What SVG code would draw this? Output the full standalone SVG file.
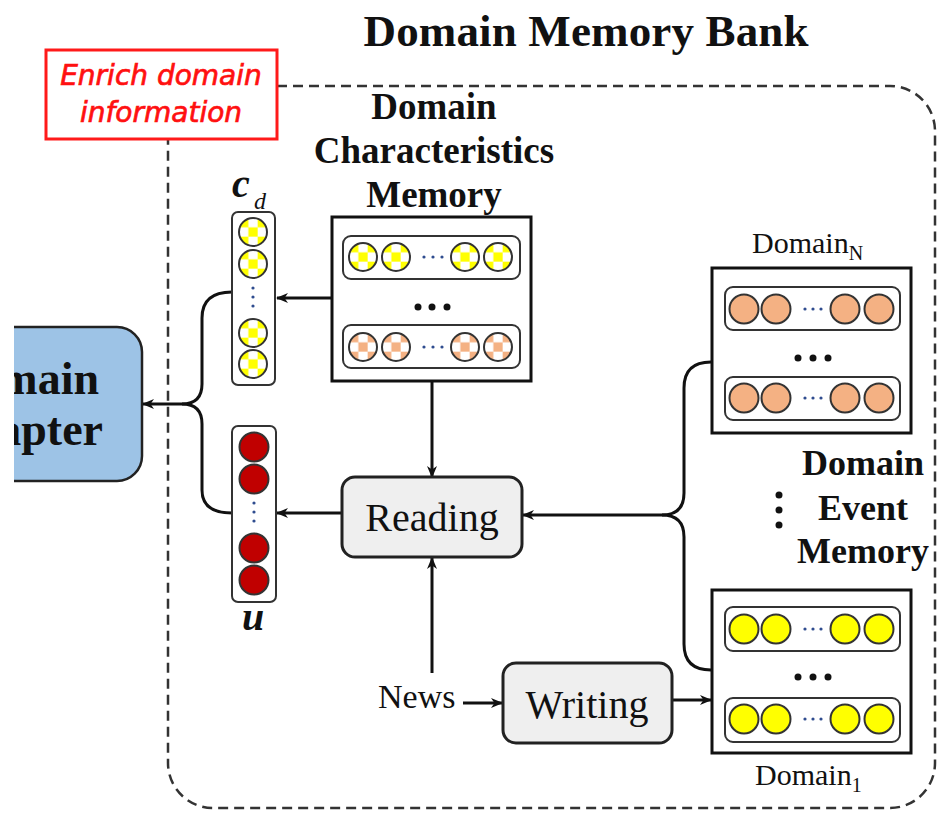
<svg xmlns="http://www.w3.org/2000/svg" width="940" height="814" viewBox="0 0 940 814">
  <defs>
    <style>
      .serif { font-family: "Liberation Serif", "Times New Roman", serif; fill: #111; }
      .bold { font-weight: bold; }
      .note { font-family: "DejaVu Sans", sans-serif; font-style: italic; font-size: 28px; fill: #ff1010; stroke: #ff1010; stroke-width: 0.7; }
      .frame { fill: #fff; stroke: #111; stroke-width: 3; }
      .row { fill: #fff; stroke: #333; stroke-width: 2; }
      .col { fill: #fff; stroke: #333; stroke-width: 2; }
      .cell { stroke: #333; stroke-width: 2; }
      .op { fill: #efefef; stroke: #222; stroke-width: 3; }
      .wire { fill: none; stroke: #111; stroke-width: 3; }
      .dot { fill: #111; }
      .tiny { fill: #2f4c8f; }
    </style>
    <pattern id="chkYellow" patternUnits="objectBoundingBox" width="0.6667" height="0.6667" patternContentUnits="objectBoundingBox">
      <rect width="0.6667" height="0.6667" fill="#ffff00"/>
      <rect x="0.3333" width="0.3333" height="0.3333" fill="#fff"/>
      <rect y="0.3333" width="0.3333" height="0.3333" fill="#fff"/>
    </pattern>
    <pattern id="chkOrange" patternUnits="objectBoundingBox" width="0.6667" height="0.6667" patternContentUnits="objectBoundingBox">
      <rect width="0.6667" height="0.6667" fill="#f4b183"/>
      <rect x="0.3333" width="0.3333" height="0.3333" fill="#fff"/>
      <rect y="0.3333" width="0.3333" height="0.3333" fill="#fff"/>
    </pattern>
    <marker id="arrow" viewBox="0 0 12 10" refX="11" refY="5" markerWidth="12" markerHeight="10" markerUnits="userSpaceOnUse" orient="auto">
      <path d="M0,0 L12,5 L0,10 L3.5,5 z" fill="#111"/>
    </marker>
    <clipPath id="viewClip">
      <rect x="14" y="0" width="926" height="814"/>
    </clipPath>
  </defs>

  <rect width="940" height="814" fill="#fff"/>

  <!-- memory bank boundary -->
  <g id="memory-bank">
    <rect x="168" y="86" width="767" height="722" rx="45" fill="none" stroke="#333" stroke-width="2.5" stroke-dasharray="10 6"/>
    <text class="serif bold" x="586" y="46" font-size="45" text-anchor="middle" textLength="445">Domain Memory Bank</text>
  </g>

  <!-- callout -->
  <g id="enrich-note">
    <rect x="46" y="50" width="231" height="89" fill="#fff" stroke="#ff1a1a" stroke-width="3"/>
    <text class="note" x="161" y="85" text-anchor="middle">Enrich domain</text>
    <text class="note" x="161" y="122" text-anchor="middle">information</text>
  </g>

  <!-- adapter (cropped at the left edge) -->
  <g id="domain-adapter" clip-path="url(#viewClip)">
    <rect x="-60" y="327" width="202" height="154" rx="25" fill="#9dc3e6" stroke="#222" stroke-width="2.5"/>
    <text class="serif bold" x="99" y="394" font-size="46" text-anchor="end">main</text>
    <text class="serif bold" x="103" y="445" font-size="46" text-anchor="end">apter</text>
  </g>

  <!-- connectors -->
  <g id="connectors">
    <line class="wire" x1="332" y1="298" x2="277" y2="298" marker-end="url(#arrow)"/>
    <path class="wire" d="M232,292 Q202,292 202,318 L202,384 Q202,404 182,404 L143,404" marker-end="url(#arrow)"/>
    <path class="wire" d="M232,513 Q202,513 202,490 L202,424 Q202,404 182,404"/>
    <line class="wire" x1="432" y1="382" x2="432" y2="477" marker-end="url(#arrow)"/>
    <line class="wire" x1="342" y1="513" x2="277" y2="513" marker-end="url(#arrow)"/>
    <line class="wire" x1="432" y1="673" x2="432" y2="558" marker-end="url(#arrow)"/>
    <line class="wire" x1="463" y1="703" x2="502" y2="703" marker-end="url(#arrow)"/>
    <line class="wire" x1="672" y1="700" x2="711" y2="700" marker-end="url(#arrow)"/>
    <path class="wire" d="M711,362 Q684,362 684,388 L684,493 Q684,515 662,515 L523,515" marker-end="url(#arrow)"/>
    <path class="wire" d="M711,670 Q684,670 684,644 L684,537 Q684,515 662,515"/>
  </g>

  <!-- domain characteristics vector -->
  <g id="cd-vector">
    <rect class="col" x="232" y="212" width="43" height="173" rx="6"/>
    <circle class="cell" cx="253" cy="232" r="14" fill="url(#chkYellow)"/>
    <circle class="cell" cx="253" cy="264" r="14" fill="url(#chkYellow)"/>
    <circle class="tiny" cx="253" cy="288" r="1.6"/>
    <circle class="tiny" cx="253" cy="297" r="1.6"/>
    <circle class="tiny" cx="253" cy="306" r="1.6"/>
    <circle class="cell" cx="253" cy="333" r="14" fill="url(#chkYellow)"/>
    <circle class="cell" cx="253" cy="364" r="14" fill="url(#chkYellow)"/>
    <text class="serif bold" x="232" y="197" font-size="40" font-style="italic">c</text>
    <text class="serif" x="254" y="209" font-size="24" font-style="italic">d</text>
  </g>

  <!-- read-out vector -->
  <g id="u-vector">
    <rect class="col" x="232" y="426" width="44" height="176" rx="6"/>
    <circle class="cell" cx="254" cy="447" r="14.5" fill="#c00000"/>
    <circle class="cell" cx="254" cy="479" r="14.5" fill="#c00000"/>
    <circle class="tiny" cx="254" cy="503" r="1.6"/>
    <circle class="tiny" cx="254" cy="512" r="1.6"/>
    <circle class="tiny" cx="254" cy="521" r="1.6"/>
    <circle class="cell" cx="254" cy="548" r="14.5" fill="#c00000"/>
    <circle class="cell" cx="254" cy="580" r="14.5" fill="#c00000"/>
    <text class="serif bold" x="253" y="630" font-size="40" font-style="italic" text-anchor="middle">u</text>
  </g>

  <!-- domain characteristics memory -->
  <g id="characteristics-memory">
    <text class="serif bold" x="434" y="119" font-size="37" text-anchor="middle">Domain</text>
    <text class="serif bold" x="434" y="163" font-size="37" text-anchor="middle">Characteristics</text>
    <text class="serif bold" x="434" y="207" font-size="37" text-anchor="middle">Memory</text>
    <rect class="frame" x="332" y="217" width="199" height="164"/>
    <rect class="row" x="343" y="236" width="177" height="43" rx="8"/>
    <circle class="cell" cx="363" cy="257" r="14" fill="url(#chkYellow)"/>
    <circle class="cell" cx="396" cy="257" r="14" fill="url(#chkYellow)"/>
    <circle class="tiny" cx="424" cy="257" r="1.6"/>
    <circle class="tiny" cx="433" cy="257" r="1.6"/>
    <circle class="tiny" cx="442" cy="257" r="1.6"/>
    <circle class="cell" cx="465" cy="257" r="14" fill="url(#chkYellow)"/>
    <circle class="cell" cx="498" cy="257" r="14" fill="url(#chkYellow)"/>
    <circle class="dot" cx="418" cy="307" r="3.5"/>
    <circle class="dot" cx="432" cy="307" r="3.5"/>
    <circle class="dot" cx="447" cy="307" r="3.5"/>
    <rect class="row" x="343" y="325" width="177" height="43" rx="8"/>
    <circle class="cell" cx="363" cy="347" r="14" fill="url(#chkOrange)"/>
    <circle class="cell" cx="396" cy="347" r="14" fill="url(#chkOrange)"/>
    <circle class="tiny" cx="424" cy="347" r="1.6"/>
    <circle class="tiny" cx="433" cy="347" r="1.6"/>
    <circle class="tiny" cx="442" cy="347" r="1.6"/>
    <circle class="cell" cx="465" cy="347" r="14" fill="url(#chkOrange)"/>
    <circle class="cell" cx="498" cy="347" r="14" fill="url(#chkOrange)"/>
  </g>

  <!-- operations -->
  <g id="reading">
    <rect class="op" x="342" y="477" width="180" height="80" rx="13"/>
    <text class="serif" x="432" y="531" font-size="40" text-anchor="middle">Reading</text>
  </g>
  <g id="writing">
    <rect class="op" x="503" y="663" width="169" height="80" rx="13"/>
    <text class="serif" x="587" y="718" font-size="40" text-anchor="middle">Writing</text>
  </g>
  <g id="news">
    <text class="serif" x="378" y="708" font-size="34">News</text>
  </g>

  <!-- domain event memory: domain N -->
  <g id="domain-n">
    <text class="serif" x="752" y="253" font-size="30">Domain<tspan font-size="20" dy="7">N</tspan></text>
    <rect class="frame" x="712" y="268" width="199" height="165"/>
    <rect class="row" x="725" y="287" width="175" height="43" rx="8"/>
    <circle class="cell" cx="744" cy="309" r="14.5" fill="#f4b183"/>
    <circle class="cell" cx="776" cy="309" r="14.5" fill="#f4b183"/>
    <circle class="tiny" cx="805" cy="309" r="1.6"/>
    <circle class="tiny" cx="813" cy="309" r="1.6"/>
    <circle class="tiny" cx="821" cy="309" r="1.6"/>
    <circle class="cell" cx="845" cy="309" r="14.5" fill="#f4b183"/>
    <circle class="cell" cx="879" cy="309" r="14.5" fill="#f4b183"/>
    <circle class="dot" cx="798" cy="358" r="3.5"/>
    <circle class="dot" cx="813" cy="358" r="3.5"/>
    <circle class="dot" cx="828" cy="358" r="3.5"/>
    <rect class="row" x="725" y="377" width="175" height="43" rx="8"/>
    <circle class="cell" cx="744" cy="398" r="14.5" fill="#f4b183"/>
    <circle class="cell" cx="776" cy="398" r="14.5" fill="#f4b183"/>
    <circle class="tiny" cx="805" cy="398" r="1.6"/>
    <circle class="tiny" cx="813" cy="398" r="1.6"/>
    <circle class="tiny" cx="821" cy="398" r="1.6"/>
    <circle class="cell" cx="845" cy="398" r="14.5" fill="#f4b183"/>
    <circle class="cell" cx="879" cy="398" r="14.5" fill="#f4b183"/>
  </g>

  <!-- domain event memory label -->
  <g id="event-memory-label">
    <circle class="dot" cx="779" cy="495" r="3.5"/>
    <circle class="dot" cx="779" cy="510" r="3.5"/>
    <circle class="dot" cx="779" cy="525" r="3.5"/>
    <text class="serif bold" x="863" y="475" font-size="36" text-anchor="middle">Domain</text>
    <text class="serif bold" x="863" y="520" font-size="36" text-anchor="middle">Event</text>
    <text class="serif bold" x="863" y="563" font-size="36" text-anchor="middle">Memory</text>
  </g>

  <!-- domain event memory: domain 1 -->
  <g id="domain-1">
    <rect class="frame" x="712" y="590" width="199" height="163"/>
    <rect class="row" x="725" y="607" width="175" height="44" rx="8"/>
    <circle class="cell" cx="744" cy="629" r="14.5" fill="#ffff00"/>
    <circle class="cell" cx="776" cy="629" r="14.5" fill="#ffff00"/>
    <circle class="tiny" cx="805" cy="629" r="1.6"/>
    <circle class="tiny" cx="813" cy="629" r="1.6"/>
    <circle class="tiny" cx="821" cy="629" r="1.6"/>
    <circle class="cell" cx="845" cy="629" r="14.5" fill="#ffff00"/>
    <circle class="cell" cx="879" cy="629" r="14.5" fill="#ffff00"/>
    <circle class="dot" cx="798" cy="677" r="3.5"/>
    <circle class="dot" cx="813" cy="677" r="3.5"/>
    <circle class="dot" cx="828" cy="677" r="3.5"/>
    <rect class="row" x="725" y="698" width="175" height="44" rx="8"/>
    <circle class="cell" cx="744" cy="719" r="14.5" fill="#ffff00"/>
    <circle class="cell" cx="776" cy="719" r="14.5" fill="#ffff00"/>
    <circle class="tiny" cx="805" cy="719" r="1.6"/>
    <circle class="tiny" cx="813" cy="719" r="1.6"/>
    <circle class="tiny" cx="821" cy="719" r="1.6"/>
    <circle class="cell" cx="845" cy="719" r="14.5" fill="#ffff00"/>
    <circle class="cell" cx="879" cy="719" r="14.5" fill="#ffff00"/>
    <text class="serif" x="755" y="785" font-size="30">Domain<tspan font-size="20" dy="7">1</tspan></text>
  </g>
</svg>
